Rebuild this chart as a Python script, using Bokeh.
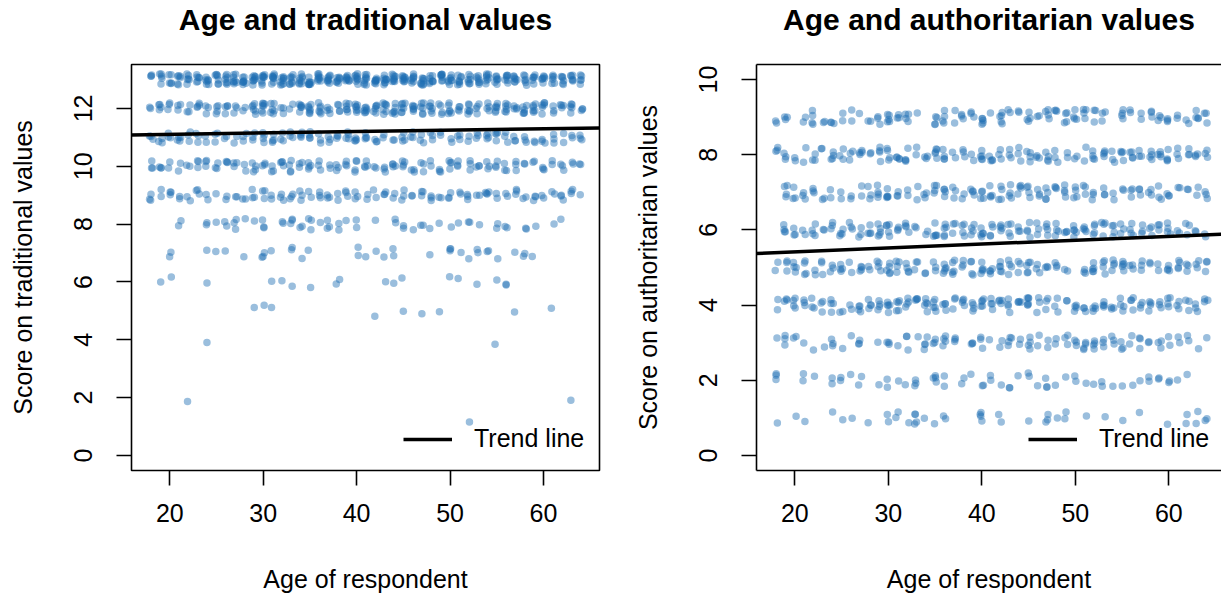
from bokeh.plotting import figure
from bokeh.models import (ColumnDataSource, Range1d, FixedTicker, LinearAxis,
                          Legend, LegendItem, Slope, Title)
from bokeh.transform import jitter
from bokeh.layouts import row
from bokeh.embed import file_html
from bokeh.resources import INLINE

# ---------------------------------------------------------------- data
AGES = list(range(18, 65))          # ages 18..64
X_TICKS = [20, 30, 40, 50, 60]
TRAD_Y_TICKS = [0, 2, 4, 6, 8, 10, 12]
AUTH_Y_TICKS = [0, 2, 4, 6, 8, 10]

# Traditional values: respondents per age (18..64) at each score
TRAD_13 = [3, 5, 5, 6, 6, 6, 7, 7, 7, 8, 8, 9, 9, 9, 9, 8, 9, 9, 9, 9, 8, 9, 9, 9,
           8, 9, 9, 9, 8, 9, 8, 8, 8, 8, 7, 7, 8, 7, 7, 7, 6, 6, 7, 6, 6, 6, 5]
TRAD_12 = [2, 4, 3, 3, 3, 4, 3, 4, 4, 3, 2, 6, 7, 6, 3, 2, 6, 7, 6, 4, 4, 6, 7, 7,
           6, 7, 6, 7, 6, 6, 6, 4, 6, 4, 6, 4, 4, 6, 6, 4, 6, 6, 6, 3, 4, 5, 3]
TRAD_11 = [3, 3, 3, 4, 3, 3, 2, 3, 2, 2, 3, 3, 4, 4, 3, 3, 4, 4, 3, 3, 3, 4, 4, 4,
           3, 2, 2, 4, 3, 3, 3, 2, 2, 3, 2, 3, 4, 4, 3, 3, 3, 2, 3, 3, 2, 2, 3]
TRAD_10 = [3, 3, 2, 2, 2, 3, 3, 3, 3, 3, 2, 4, 3, 3, 4, 4, 3, 4, 3, 2, 3, 3, 4, 4,
           2, 3, 4, 4, 3, 3, 2, 3, 4, 3, 3, 3, 3, 3, 3, 3, 2, 2, 3, 2, 3, 2, 2]
TRAD_9 = [3, 2, 3, 2, 2, 3, 2, 1, 2, 2, 2, 3, 3, 2, 3, 3, 3, 2, 3, 3, 2, 3, 3, 2,
          2, 3, 2, 3, 2, 3, 3, 2, 3, 2, 3, 2, 4, 2, 2, 3, 2, 3, 2, 2, 3, 3, 1]
TRAD_8 = {21: 2, 24: 2, 25: 1, 26: 2, 27: 3, 28: 1, 29: 1, 30: 3, 32: 2, 33: 3,
          34: 2, 35: 3, 36: 1, 37: 3, 38: 2, 39: 1, 40: 2, 42: 1, 44: 2, 45: 2,
          46: 1, 47: 2, 48: 1, 49: 1, 50: 1, 51: 1, 52: 2, 53: 1, 55: 2, 56: 2,
          58: 2, 59: 1, 61: 1, 62: 1}
TRAD_7 = {20: 2, 24: 1, 25: 1, 26: 1, 28: 1, 30: 3, 31: 1, 33: 2, 34: 1, 35: 1,
          40: 2, 41: 1, 42: 1, 43: 1, 44: 2, 48: 1, 50: 3, 51: 1, 52: 1, 53: 2,
          54: 2, 55: 1, 57: 1, 58: 2, 59: 1}
TRAD_6 = {19: 1, 20: 1, 24: 1, 31: 1, 32: 1, 33: 1, 35: 1, 38: 2, 43: 1, 44: 1,
          45: 1, 50: 1, 51: 1, 53: 1, 55: 1, 56: 2}
TRAD_5 = {29: 1, 30: 1, 31: 1, 42: 1, 45: 1, 47: 1, 49: 1, 57: 1, 61: 1}
TRAD_4 = {24: 1, 55: 1}
TRAD_2 = {22: 1, 63: 1}
TRAD_1 = {52: 1}

# Authoritarian values: respondents per age (18..64) at each score
AUTH_9 = [2, 3, 0, 2, 4, 2, 3, 2, 2, 1, 2, 3, 5, 3, 4, 1, 0, 4, 4, 2, 3, 3, 5, 1,
          5, 2, 2, 4, 2, 4, 3, 4, 4, 4, 3, 3, 0, 4, 2, 2, 3, 3, 3, 2, 2, 4, 3]
AUTH_8 = [3, 3, 2, 2, 3, 2, 4, 3, 3, 4, 2, 4, 4, 4, 4, 2, 3, 5, 4, 2, 3, 2, 5, 4,
          3, 3, 3, 4, 3, 4, 3, 2, 2, 2, 4, 4, 3, 4, 4, 3, 4, 4, 4, 3, 3, 3, 3]
AUTH_7 = [0, 4, 3, 3, 3, 2, 2, 2, 2, 2, 3, 4, 5, 3, 2, 2, 3, 4, 4, 3, 2, 4, 4, 4,
          4, 4, 4, 4, 3, 4, 3, 4, 4, 3, 3, 3, 2, 2, 3, 3, 3, 3, 3, 2, 2, 2, 3]
AUTH_6 = [0, 4, 3, 2, 4, 2, 3, 4, 3, 3, 4, 5, 5, 3, 4, 2, 2, 5, 5, 3, 4, 4, 5, 4,
          4, 4, 3, 4, 3, 4, 4, 3, 5, 4, 4, 4, 4, 3, 4, 3, 3, 3, 4, 2, 3, 2, 2]
AUTH_5 = [2, 3, 4, 4, 2, 3, 3, 4, 2, 4, 2, 4, 5, 4, 4, 3, 2, 3, 5, 5, 3, 4, 5, 4,
          5, 4, 3, 5, 3, 3, 3, 2, 0, 3, 5, 4, 4, 5, 3, 3, 2, 2, 4, 4, 3, 3, 3]
AUTH_4 = [2, 3, 4, 3, 3, 3, 4, 2, 2, 4, 4, 4, 5, 5, 4, 4, 5, 5, 4, 3, 4, 4, 5, 4,
          4, 4, 4, 6, 3, 3, 3, 2, 4, 3, 4, 4, 3, 4, 4, 3, 4, 3, 4, 3, 3, 3, 3]
AUTH_3 = {18: 1, 19: 3, 20: 2, 21: 1, 22: 1, 23: 1, 24: 3, 25: 1, 26: 1, 27: 3,
          29: 1, 30: 3, 31: 1, 32: 3, 33: 1, 34: 4, 35: 3, 36: 4, 37: 3, 39: 3,
          40: 3, 41: 1, 42: 2, 43: 4, 44: 2, 45: 4, 46: 2, 47: 2, 48: 2, 49: 3,
          50: 3, 51: 4, 52: 4, 53: 3, 54: 3, 55: 3, 56: 2, 57: 3, 58: 2, 59: 3,
          60: 2, 61: 2, 62: 2, 63: 1, 64: 1}
AUTH_2 = {18: 3, 21: 2, 22: 1, 24: 2, 25: 2, 26: 1, 27: 2, 29: 1, 30: 2, 31: 1,
          32: 1, 33: 3, 35: 4, 36: 2, 38: 2, 39: 1, 40: 2, 41: 2, 42: 1, 43: 2,
          44: 1, 45: 2, 46: 1, 47: 3, 48: 1, 49: 1, 50: 2, 51: 1, 52: 1, 53: 2,
          54: 1, 55: 1, 56: 1, 57: 1, 58: 2, 59: 2, 60: 2, 61: 1, 62: 1}
AUTH_1 = {18: 1, 20: 1, 21: 1, 24: 1, 25: 1, 26: 1, 28: 1, 30: 2, 31: 2, 32: 1,
          33: 4, 34: 1, 35: 1, 36: 2, 40: 4, 42: 2, 45: 1, 47: 3, 48: 1, 49: 2,
          51: 1, 53: 1, 55: 1, 57: 1, 60: 1, 62: 2, 63: 2, 64: 2}

# Trend lines (intercept, slope)
TRAD_TREND = (11.01, 0.0048)
AUTH_TREND = (5.21, 0.0103)

TRAD_ROWS = {13: TRAD_13, 12: TRAD_12, 11: TRAD_11, 10: TRAD_10, 9: TRAD_9,
             8: TRAD_8, 7: TRAD_7, 6: TRAD_6, 5: TRAD_5, 4: TRAD_4, 2: TRAD_2,
             1: TRAD_1}
AUTH_ROWS = {9: AUTH_9, 8: AUTH_8, 7: AUTH_7, 6: AUTH_6, 5: AUTH_5, 4: AUTH_4,
             3: AUTH_3, 2: AUTH_2, 1: AUTH_1}


def expand(rows):
    """Turn the frequency tables into one (age, score) pair per respondent."""
    ages, scores = [], []
    for score, counts in rows.items():
        pairs = counts.items() if isinstance(counts, dict) else zip(AGES, counts)
        for age, n in pairs:
            ages.extend([age] * n)
            scores.extend([score] * n)
    return ColumnDataSource(dict(age=ages, score=scores))


# ---------------------------------------------------------------- style
FONT = "Liberation Sans"
POINT = "#1f6fb4"
LW = 1.6


def panel(title, ylabel, yticks, rows, trend, x_end, y_range, frame_w,
          right_border, full_box):
    p = figure(title=None, frame_width=frame_w, frame_height=406,
               min_border_left=131, min_border_right=right_border,
               min_border_top=64, min_border_bottom=128,
               x_range=Range1d(15.9, x_end), y_range=Range1d(*y_range),
               output_backend="svg", toolbar_location=None,
               x_axis_location=None, y_axis_location=None,
               background_fill_color="white", border_fill_color="white")
    p.grid.visible = False

    xa = LinearAxis(ticker=FixedTicker(ticks=X_TICKS), axis_label="Age of respondent")
    ya = LinearAxis(ticker=FixedTicker(ticks=yticks), axis_label=ylabel)
    for ax in (xa, ya):
        ax.major_tick_out = 15
        ax.major_tick_in = 0
        ax.minor_tick_line_color = None
        ax.major_tick_line_width = LW
        ax.major_tick_line_color = "black"
        ax.major_label_text_font = FONT
        ax.major_label_text_font_size = "25px"
        ax.major_label_text_color = "black"
        ax.axis_label_text_font = FONT
        ax.axis_label_text_font_size = "25px"
        ax.axis_label_text_font_style = "normal"
        ax.axis_label_text_color = "black"
        ax.axis_line_width = LW
        ax.axis_line_color = None if full_box else "black"
    xa.major_label_standoff = 18
    xa.axis_label_standoff = 40
    ya.major_label_orientation = "vertical"
    ya.major_label_standoff = 24
    ya.axis_label_standoff = 35
    p.add_layout(xa, "below")
    p.add_layout(ya, "left")

    if full_box:
        p.outline_line_color = "black"
        p.outline_line_width = LW
        p.outline_line_alpha = 1
    else:
        p.outline_line_color = None

    # top edge of the box; its blank label keeps the title clear of the box
    top = LinearAxis(ticker=FixedTicker(ticks=[]),
                     axis_line_color=None if full_box else "black",
                     axis_line_width=LW, major_tick_out=0, major_tick_in=0,
                     major_tick_line_color=None, minor_tick_line_color=None,
                     axis_label=" ", axis_label_text_font=FONT,
                     axis_label_text_font_size="20px",
                     axis_label_text_alpha=0, axis_label_standoff=4)
    p.add_layout(top, "above")
    p.add_layout(Title(text=title, align="center", text_font=FONT,
                       text_font_size="30px", text_font_style="bold",
                       text_color="black", standoff=0), "above")

    src = expand(rows)
    p.scatter(x=jitter("age", width=0.4, distribution="uniform"),
              y=jitter("score", width=0.4, distribution="uniform"),
              source=src, size=7.5, marker="circle",
              fill_color=POINT, fill_alpha=0.45, line_color=None)

    p.add_layout(Slope(y_intercept=trend[0], gradient=trend[1],
                       line_color="black", line_width=3.5))

    key = p.line(x=[float("nan")], y=[float("nan")], line_color="black",
                 line_width=3.5)
    legend = Legend(items=[LegendItem(label="Trend line", renderers=[key])],
                    location=(272, 17), background_fill_alpha=0,
                    border_line_alpha=0, label_text_font=FONT,
                    label_text_font_size="25px", label_text_color="black",
                    glyph_width=49, glyph_height=28, label_height=28,
                    label_standoff=22, padding=0, margin=0, spacing=0)
    p.add_layout(legend)
    return p


left = panel("Age and traditional values", "Score on traditional values",
             TRAD_Y_TICKS, TRAD_ROWS, TRAD_TREND, 66.0, (-0.52, 13.52),
             468, 26, True)
right = panel("Age and authoritarian values", "Score on authoritarian values",
              AUTH_Y_TICKS, AUTH_ROWS, AUTH_TREND, 65.63, (-0.4, 10.4),
              465, 0, False)

layout = row(left, right, spacing=0)
open("out.html", "w").write(file_html(layout, INLINE))
